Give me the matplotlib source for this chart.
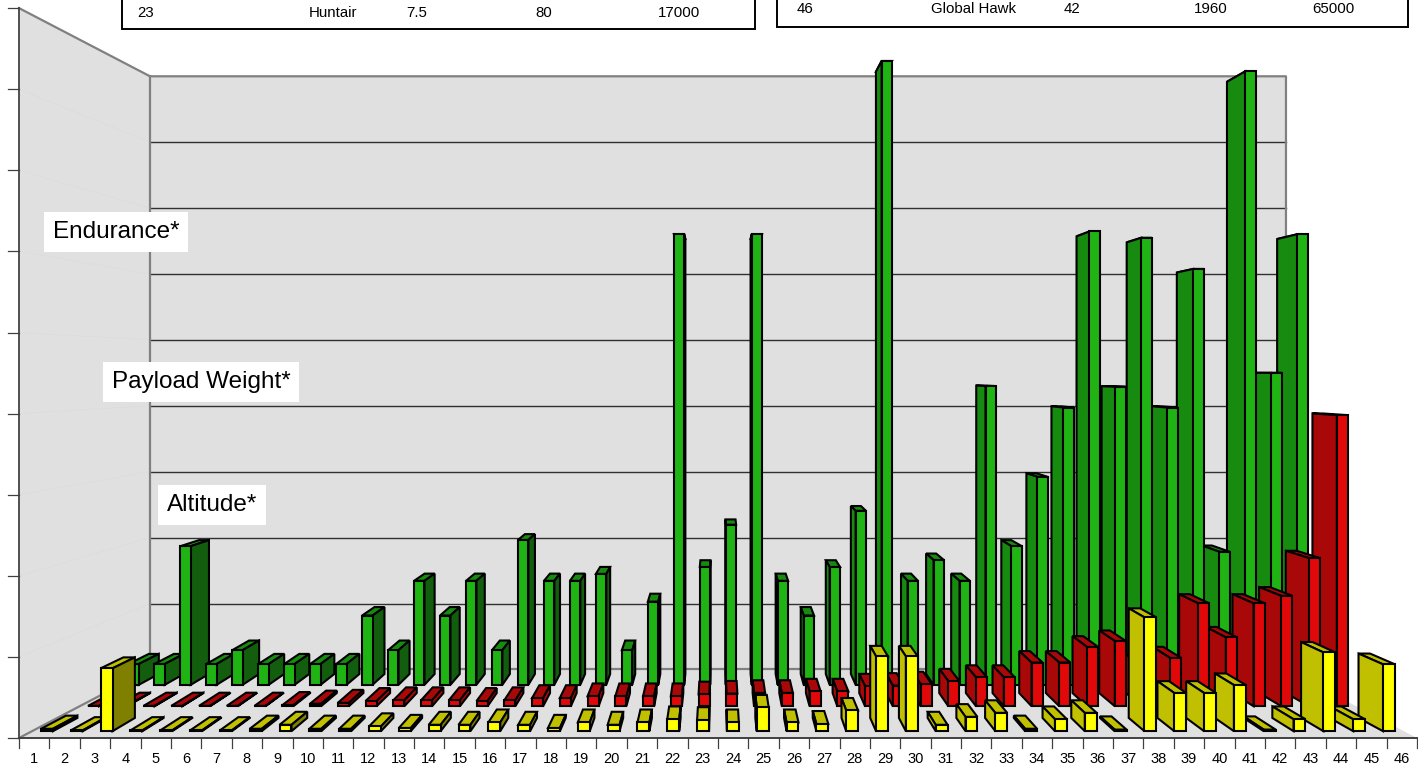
import matplotlib
matplotlib.use('Agg')
import matplotlib.pyplot as plt
from matplotlib.patches import Rectangle

plt.rcParams['font.family'] = ['Liberation Sans', 'DejaVu Sans']

categorias = [str(i) for i in range(1, 47)]

altitude = [.03, .01, .79, .01, .01, .01, .01, .03, .08, .03, .03, .06, .04, .08, .08, .11,
            .08, .04, .11, .08, .11, .15, .14, .11, .30, .11, .09, .26, .94, .94, .08, .18,
            .23, .03, .15, .23, .02, 1.43, .48, .48, .58, .02, .15, .99, .15, .84]
payload = [.005, .005, .005, .005, .005, .005, .005, .014, .034, .045, .07, .08, .08, .08, .07, .08,
           .11, .11, .135, .135, .135, .135, .16, .17, .18, .18, .2, .2, .27, .28, .30, .34,
           .39, .39, .59, .59, .80, .88, .54, .65, 1.39, .93, 1.39, 1.49, 2.0, 3.93]
endurance = [.3, .3, 2.0, .3, .5, .3, .3, .3, .3, 1.0, .5, 1.5, 1.0, 1.5, .5, 2.09,
             1.5, 1.5, 1.6, .5, 1.2, 6.5, 1.7, 2.31, 6.5, 1.5, 1.0, 1.7, 2.51, 9.0, 1.5, 1.8,
             1.5, 4.31, 2.0, 3.0, 4.0, 6.54, 4.3, 6.45, 4.0, 6.0, 1.92, 8.85, 4.5, 6.5]

tabela_esq = [('23', 137), ('Huntair', 309), ('7.5', 406), ('80', 535), ('17000', 658)]
tabela_dir = [('46', 797), ('Global Hawk', 931), ('42', 1064), ('1960', 1194), ('65000', 1312)]

# perspectiva do grafico 3D: ponto de fuga e plano da frente em pixels
VPX, VPY = 718, 372
X0, LARG = 19, 30.39
Y0, UNID = 738, 81.1
FUNDO = 1.2306
N_GRADE = 9


def proj(cat, val, prof):
    x = X0 + cat * LARG
    y = Y0 - val * UNID
    return VPX + (x - VPX) / prof, VPY + (y - VPY) / prof


def face(ax, pts, cor):
    xs, ys = zip(*pts)
    ax.fill(xs, ys, facecolor=cor, edgecolor='black', linewidth=1.5, joinstyle='miter', zorder=3)


def barra(ax, k, val, prof1, prof2, cores):
    c = k - 0.5
    e, d = c - 0.2, c + 0.2
    frente, lado_esq, lado_dir, topo = cores
    face(ax, [proj(e, val, prof1), proj(d, val, prof1), proj(d, val, prof2), proj(e, val, prof2)], topo)
    if proj(c, 0, 1)[0] < VPX:
        # lado direito aparece
        face(ax, [proj(d, 0, prof1), proj(d, val, prof1), proj(d, val, prof2), proj(d, 0, prof2)], lado_dir)
    else:
        face(ax, [proj(e, 0, prof1), proj(e, val, prof1), proj(e, val, prof2), proj(e, 0, prof2)], lado_esq)
    face(ax, [proj(e, 0, prof1), proj(d, 0, prof1), proj(d, val, prof1), proj(e, val, prof1)], frente)


def serie(ax, valores, prof1, prof2, cores):
    # de fora para o centro, para as barras internas ficarem na frente
    ordem = sorted(range(len(valores)), key=lambda i: -abs(proj(i + 0.5, 0, 1)[0] - VPX))
    for i in ordem:
        barra(ax, i + 1, valores[i], prof1, prof2, cores)


fig = plt.figure(figsize=(14.18, 7.68), dpi=100)
ax = fig.add_axes([0, 0, 1, 1])
ax.set_xlim(0, 1418)
ax.set_ylim(768, 0)
ax.axis('off')

# paredes e chao
n = len(categorias)
parede = '#e0e0e0'
cinza = '#808080'
esq_f, esq_b = proj(0, 0, 1), proj(0, 0, FUNDO)
dir_f, dir_b = proj(n, 0, 1), proj(n, 0, FUNDO)
top_f, top_b = proj(0, N_GRADE, 1), proj(0, N_GRADE, FUNDO)
top_d = proj(n, N_GRADE, FUNDO)

ax.fill(*zip(esq_f, dir_f, dir_b, esq_b), facecolor=parede, edgecolor='none', zorder=1)
ax.fill(*zip(esq_f, top_f, top_b, esq_b), facecolor=parede, edgecolor='none', zorder=1)
ax.fill(*zip(esq_b, top_b, top_d, dir_b), facecolor=parede, edgecolor='none', zorder=1)

for g in range(1, N_GRADE):
    a, b, c = proj(0, g, 1), proj(0, g, FUNDO), proj(n, g, FUNDO)
    ax.plot(*zip(a, b), color='#dcdcdc', lw=0.5, zorder=2)
    ax.plot(*zip(b, c), color='#303030', lw=1.0, zorder=2)

ax.plot(*zip(esq_b, dir_b), color=cinza, lw=1.6, zorder=2)
ax.plot(*zip(top_f, top_b, top_d, dir_b), color=cinza, lw=1.6, zorder=2)
ax.plot(*zip(top_b, esq_b), color=cinza, lw=1.6, zorder=2)
ax.plot(*zip(esq_f, esq_b), color=cinza, lw=1.6, zorder=2)

# eixos
ax.plot(*zip(top_f, esq_f), color='#505050', lw=1.4, zorder=2)
ax.plot(*zip(esq_f, dir_f), color='#404040', lw=1.4, zorder=2)
for g in range(N_GRADE + 1):
    x, y = proj(0, g, 1)
    ax.plot([x - 11, x], [y, y], color='#404040', lw=0.9, zorder=2)
for i in range(n + 1):
    x, y = proj(i, 0, 1)
    ax.plot([x, x], [y, y + 10], color='#404040', lw=0.9, zorder=2)
for i, rotulo in enumerate(categorias):
    x, y = proj(i + 0.5, 0, 1)
    ax.text(x, y + 21, rotulo, ha='center', va='center', fontsize=10.5, color='black')

# series, do fundo para a frente
serie(ax, endurance, 1.170, 1.212, ('#1fb414', '#178a10', '#125e0e', '#178a10'))
serie(ax, payload, 1.095, 1.140, ('#e00808', '#a80808', '#a80808', '#a80808'))
serie(ax, altitude, 1.019, 1.058, ('#ffff00', '#c0c000', '#808000', '#c0c000'))

# nomes das series
caixa = dict(facecolor='white', edgecolor='none', pad=6.5)
ax.text(116, 232, 'Endurance*', ha='center', va='center', fontsize=17.5, bbox=caixa, zorder=5)
ax.text(201, 382, 'Payload Weight*', ha='center', va='center', fontsize=17.5, bbox=caixa, zorder=5)
ax.text(212, 505, 'Altitude*', ha='center', va='center', fontsize=17.5, bbox=caixa, zorder=5)

# tabelas cortadas no topo
ax.add_patch(Rectangle((122, -5), 633, 34, facecolor='white', edgecolor='black', lw=1.4, zorder=5))
ax.add_patch(Rectangle((777, -5), 631, 32, facecolor='white', edgecolor='black', lw=1.4, zorder=5))
for texto, x in tabela_esq:
    ax.text(x, 13, texto, ha='left', va='center', fontsize=10.8, zorder=6)
for texto, x in tabela_dir:
    ax.text(x, 9, texto, ha='left', va='center', fontsize=10.8, zorder=6)

fig.savefig('out.png', dpi=100)
